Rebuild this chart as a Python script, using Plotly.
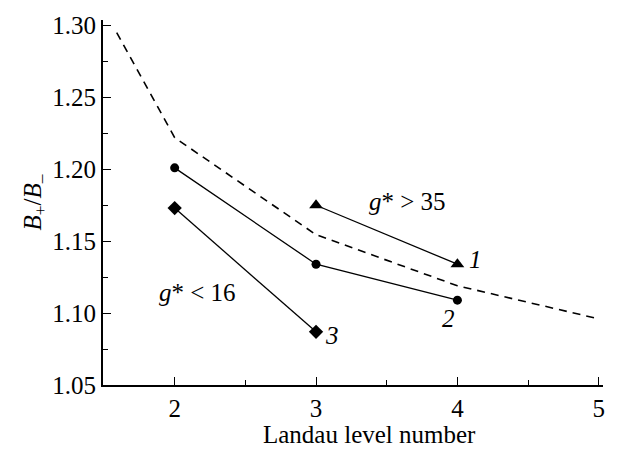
import plotly.graph_objects as go

# Data
s1_x = [3, 4]
s1_y = [1.175, 1.134]
s2_x = [2, 3, 4]
s2_y = [1.201, 1.134, 1.109]
s3_x = [2, 3]
s3_y = [1.173, 1.087]
dash_x = [1.59, 2, 3, 4, 5]
dash_y = [1.295, 1.222, 1.1545, 1.119, 1.096]

x_ticks = [2, 3, 4, 5]
y_ticks = [1.05, 1.10, 1.15, 1.20, 1.25, 1.30]

FONT = "Liberation Serif"
FS = 25

fig = go.Figure()
fig.add_trace(go.Scatter(x=dash_x, y=dash_y, mode="lines",
                         line=dict(color="black", width=1.6, dash="8px,6px")))
fig.add_trace(go.Scatter(x=s1_x, y=s1_y, mode="lines+markers",
                         line=dict(color="black", width=1.3),
                         marker=dict(symbol="triangle-up", size=12, color="black")))
fig.add_trace(go.Scatter(x=s2_x, y=s2_y, mode="lines+markers",
                         line=dict(color="black", width=1.3),
                         marker=dict(symbol="circle", size=9, color="black")))
fig.add_trace(go.Scatter(x=s3_x, y=s3_y, mode="lines+markers",
                         line=dict(color="black", width=1.3),
                         marker=dict(symbol="diamond", size=11, color="black")))

ann = [
    (3.65, 1.1777, "<i>g</i>* > 35"),
    (2.16, 1.1145, "<i>g</i>* < 16"),
    (4.13, 1.1375, "<i>1</i>"),
    (3.94, 1.096, "<i>2</i>"),
    (3.11, 1.0845, "<i>3</i>"),
]
for x, y, t in ann:
    fig.add_annotation(x=x, y=y, text=t, showarrow=False, xanchor="center",
                       font=dict(family=FONT, size=FS, color="black"))

# x-axis title (placed as annotation to match its offset)
fig.add_annotation(xref="paper", yref="paper", x=0.532, y=-0.135,
                   xanchor="center", yanchor="middle", showarrow=False,
                   text="Landau level number",
                   font=dict(family=FONT, size=FS, color="black"))

fig.update_layout(
    width=622, height=462,
    margin=dict(l=103, r=19, t=15, b=77),
    paper_bgcolor="white", plot_bgcolor="white",
    showlegend=False,
    font=dict(family=FONT, size=FS, color="black"),
)
fig.update_xaxes(
    range=[1.493, 5.03], showgrid=False, zeroline=False,
    showline=True, linecolor="black", linewidth=2,
    tickvals=x_ticks, ticktext=[str(v) for v in x_ticks],
    ticks="inside", ticklen=8, tickwidth=1.3, tickcolor="black",
    minor=dict(tickvals=[2.5, 3.5, 4.5], ticks="inside", ticklen=5,
               tickwidth=1.3, tickcolor="black", showgrid=False),
    tickfont=dict(family=FONT, size=FS, color="black"),
)
fig.update_yaxes(
    range=[1.05, 1.3038], showgrid=False, zeroline=False,
    showline=True, linecolor="black", linewidth=2,
    tickvals=y_ticks, ticktext=["%.2f" % v for v in y_ticks],
    ticks="inside", ticklen=8, tickwidth=1.3, tickcolor="black",
    minor=dict(tickvals=[1.075, 1.125, 1.175, 1.225, 1.275], ticks="inside",
               ticklen=5, tickwidth=1.3, tickcolor="black", showgrid=False),
    title=dict(text="<i>B</i><sub>+</sub>/<i>B</i><sub>–</sub>",
               font=dict(family=FONT, size=FS, color="black"), standoff=4),
    tickfont=dict(family=FONT, size=FS, color="black"),
)

fig.write_html("out.html")
